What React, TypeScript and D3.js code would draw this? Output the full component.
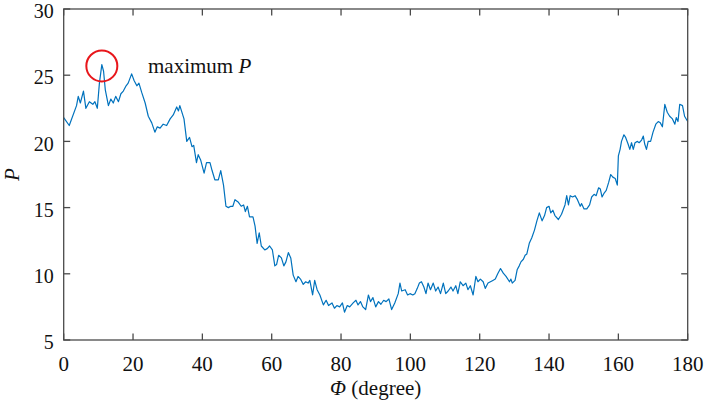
import React from 'react';
import * as d3 from 'd3';

// readings of the curve off the figure: angle (degree) and P
const phiDeg = [
  0, 1.6, 3.7, 4.2, 4.8, 5.7, 6.4, 7.4, 8.4, 9.0, 9.7, 10.3, 11.0, 11.5, 12.0, 12.9, 13.6, 14.3, 15.0, 15.8,
  16.5, 17.2, 18.0, 18.6, 19.6, 20.3, 21.1, 21.7, 22.5, 23.5, 24.4, 25.4, 26.3, 27.0, 27.8, 28.7, 29.7, 30.7,
  31.6, 32.6, 33.1, 33.5, 34.7, 35.5, 36.3, 37.0, 37.5, 38.3, 38.8, 39.5, 40.5, 41.2, 42.2, 42.8, 43.6, 44.6,
  45.3, 46.1, 46.8, 47.5, 48.2, 48.8, 49.4, 50.4, 51.2, 51.9, 52.4, 53.0, 53.6, 54.6, 55.2, 55.8, 56.4, 57.0,
  58.0, 58.7, 59.4, 60.2, 60.9, 61.4, 62.0, 62.8, 63.5, 64.1, 64.8, 65.5, 66.2, 67.0, 67.6, 68.3, 69.1, 69.8,
  70.5, 71.0, 71.8, 72.4, 73.1, 73.9, 74.9, 75.7, 76.4, 77.4, 78.1, 78.8, 79.6, 80.4, 81.0, 81.8, 82.5, 83.5,
  84.3, 84.9, 85.6, 86.3, 87.1, 87.9, 88.5, 89.2, 90.0, 90.8, 91.5, 92.3, 93.0, 93.8, 94.6, 95.5, 96.5, 97.0,
  97.5, 98.5, 99.2, 99.9, 100.7, 101.3, 102.0, 102.6, 103.2, 103.9, 104.5, 105.1, 105.8, 106.6, 107.3, 108.0,
  108.7, 109.5, 110.2, 110.9, 111.7, 112.3, 113.1, 113.7, 114.4, 115.2, 116.0, 116.6, 117.3, 118.1, 118.9,
  119.5, 120.2, 121.0, 121.6, 122.4, 123.1, 123.8, 124.5, 125.2, 126.0, 126.8, 127.6, 128.6, 129.0, 129.4,
  130.2, 130.8, 131.4, 131.9, 132.6, 133.1, 133.6, 134.3, 135.0, 135.8, 136.5, 137.2, 138.0, 138.7, 139.3,
  140.0, 140.5, 141.1, 141.7, 142.7, 143.6, 144.6, 145.1, 145.6, 146.1, 146.8, 147.5, 148.2, 149.0, 149.4,
  150.1, 150.9, 151.7, 152.3, 153.0, 153.6, 154.3, 154.8, 155.3, 155.9, 156.5, 157.2, 157.8, 158.4, 159.1,
  159.7, 160.0, 160.5, 160.9, 161.6, 162.1, 162.8, 163.3, 163.8, 164.3, 164.8, 165.5, 166.0, 166.7, 167.2,
  167.6, 168.1, 168.6, 169.3, 170.0, 170.8, 171.5, 172.1, 172.7, 173.4, 174.1, 174.8, 175.6, 176.3, 176.7,
  177.2, 177.7, 178.5, 179.1, 180.0,
];

const pValues = [
  21.8, 21.2, 22.7, 23.4, 22.9, 23.8, 22.5, 23.0, 22.8, 23.0, 22.5, 24.4, 25.8, 25.3, 23.9, 22.7, 23.2, 22.9, 23.4, 23.0,
  23.6, 23.8, 24.2, 24.4, 25.1, 24.6, 24.2, 24.4, 23.7, 22.9, 21.9, 21.4, 20.7, 21.1, 21.0, 21.3, 21.2, 21.7,
  22.0, 22.6, 22.3, 22.7, 21.7, 20.0, 20.3, 19.6, 19.7, 18.4, 19.0, 18.6, 17.6, 18.4, 18.4, 17.8, 17.1, 17.1,
  17.8, 16.7, 15.1, 15.0, 15.1, 15.1, 15.6, 15.4, 15.1, 15.2, 14.7, 15.1, 14.3, 14.3, 13.6, 12.3, 13.1, 12.1,
  11.8, 11.9, 12.1, 11.8, 10.6, 10.7, 11.4, 11.2, 10.6, 10.9, 11.6, 11.2, 9.9, 9.4, 9.8, 9.6, 9.2, 9.4,
  9.3, 9.5, 8.4, 9.5, 8.8, 8.4, 7.65, 8.0, 7.6, 7.8, 7.4, 7.6, 7.5, 7.8, 7.1, 7.6, 7.5, 7.8,
  8.0, 7.65, 7.9, 7.5, 7.3, 8.4, 7.9, 8.2, 7.5, 7.9, 7.7, 8.0, 7.9, 8.1, 7.3, 7.8, 8.5, 9.3,
  8.7, 8.8, 8.4, 8.5, 8.4, 8.5, 8.9, 9.3, 9.4, 9.0, 8.5, 9.3, 8.8, 9.3, 8.7, 9.0,
  8.5, 9.3, 8.5, 8.7, 9.0, 8.7, 9.1, 8.5, 9.4, 9.1, 9.3, 8.8, 9.1, 8.4, 9.8,
  9.4, 9.6, 9.4, 8.9, 9.3, 9.4, 9.5, 9.6, 10.0, 10.4, 10.05, 9.8, 9.4, 9.6, 9.3,
  9.5, 10.3, 10.6, 10.9, 11.1, 11.4, 11.5, 12.3, 12.7, 13.3, 14.0, 14.6, 14.0, 14.4, 15.0,
  15.1, 14.6, 14.8, 14.4, 14.1, 14.5, 15.2, 15.9, 15.2, 15.9, 15.8, 15.9, 15.6, 15.1, 15.3,
  14.9, 14.9, 15.2, 15.8, 16.0, 15.9, 16.5, 16.4, 15.8, 16.1, 16.3, 16.9, 17.5, 17.3, 17.2,
  16.7, 18.9, 19.4, 20.0, 20.5, 20.3, 19.8, 19.4, 19.9, 19.4, 19.9, 20.0, 19.9, 20.1, 20.4,
  19.8, 19.4, 20.0, 20.0, 20.7, 21.3, 21.5, 21.4, 21.1, 22.8, 22.2, 21.9, 21.7, 21.3, 21.8,
  21.5, 22.8, 22.7, 21.9, 21.5,
];

const xTicks = [0, 20, 40, 60, 80, 100, 120, 140, 160, 180];
const yTicks = [5, 10, 15, 20, 25, 30];

// where the red circle marks the peak
const peakPhi = 11;
const peakP = 25.7;

const width = 706;
const height = 405;
const margin = { top: 9, right: 18.3, bottom: 65, left: 63.7 };
const font = "'Liberation Serif', 'Times New Roman', serif";
const axisColor = '#4a4a4a';
const tickLen = 6.5;

const App: React.FC = () => {
  const x = d3.scaleLinear().domain([0, 180]).range([margin.left, width - margin.right]);
  const y = d3.scaleLinear().domain([5, 30]).range([height - margin.bottom, margin.top]);

  const points: [number, number][] = phiDeg.map((d, i) => [d, pValues[i]]);
  const line = d3.line<[number, number]>()
    .x(d => x(d[0]))
    .y(d => y(d[1]));

  const x0 = x(0), x1 = x(180), y0 = y(5), y1 = y(30);

  return (
    <svg
      width={width}
      height={height}
      style={{ position: 'absolute', left: 0, top: 0, background: '#fff' }}
      fontFamily={font}
    >
      <path d={line(points) || ''} fill="none" stroke="#0072BD" strokeWidth={1.2} strokeLinejoin="round" />

      {/* axes box */}
      <rect x={x0} y={y1} width={x1 - x0} height={y0 - y1} fill="none" stroke={axisColor} strokeWidth={1.3} />

      {xTicks.map(t => (
        <g key={'x' + t}>
          <line x1={x(t)} x2={x(t)} y1={y0} y2={y0 - tickLen} stroke={axisColor} strokeWidth={1.3} />
          <line x1={x(t)} x2={x(t)} y1={y1} y2={y1 + tickLen} stroke={axisColor} strokeWidth={1.3} />
          <text x={x(t)} y={y0 + 31} textAnchor="middle" fontSize={21} fill="#111">{t}</text>
        </g>
      ))}

      {yTicks.map(t => (
        <g key={'y' + t}>
          <line x1={x0} x2={x0 + tickLen} y1={y(t)} y2={y(t)} stroke={axisColor} strokeWidth={1.3} />
          <line x1={x1} x2={x1 - tickLen} y1={y(t)} y2={y(t)} stroke={axisColor} strokeWidth={1.3} />
          <text x={x0 - 10} y={y(t)} dy="0.46em" textAnchor="end" fontSize={20} fill="#111">{t}</text>
        </g>
      ))}

      <text x={(x0 + x1) / 2} y={395} textAnchor="middle" fontSize={21} fill="#111">
        <tspan fontStyle="italic">Φ</tspan> (degree)
      </text>

      <text
        transform={`translate(19, ${(y0 + y1) / 2}) rotate(-90)`}
        textAnchor="middle"
        fontSize={21}
        fontStyle="italic"
        fill="#111"
      >
        P
      </text>

      <circle cx={x(peakPhi)} cy={y(peakP)} r={15.5} fill="none" stroke="#e8161b" strokeWidth={2} />

      <text x={148} y={73} fontSize={21} fill="#111">
        maximum <tspan fontStyle="italic">P</tspan>
      </text>
    </svg>
  );
};

export default App;
